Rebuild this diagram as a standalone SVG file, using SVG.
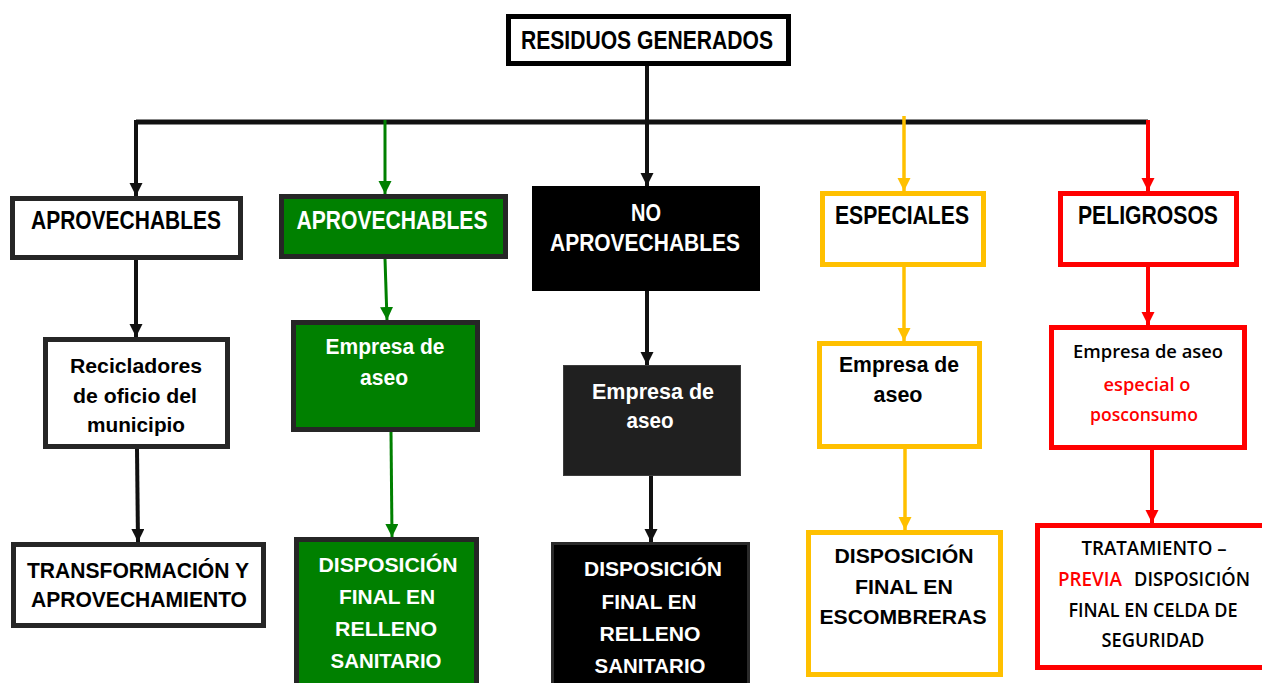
<svg xmlns="http://www.w3.org/2000/svg" width="1262" height="683" viewBox="0 0 1262 683">
<defs>
<style>
.t{font-family:"Liberation Sans",Arial,sans-serif;font-weight:bold;text-anchor:middle}
.c{font-family:"Open Sans","Noto Sans",sans-serif;font-weight:600;text-anchor:middle}
.w{fill:#ffffff}
.k{fill:#000000}
.r{fill:#ff0000}
.bx{fill:#ffffff;stroke:#262626;stroke-width:5}
.gb{fill:#008000;stroke:#262626;stroke-width:5}
.yb{fill:#ffffff;stroke:#ffc000;stroke-width:5}
.rb{fill:#ffffff;stroke:#ff0000;stroke-width:5}
.lk{fill:none;stroke:#111111;stroke-width:4}
.lg{fill:none;stroke:#008000;stroke-width:3}
.ly{fill:none;stroke:#ffc000;stroke-width:3.5}
.lr{fill:none;stroke:#ff0000;stroke-width:4}
</style>
<marker id="ak" markerUnits="userSpaceOnUse" markerWidth="14" markerHeight="14" refX="13" refY="6.5" orient="auto"><path d="M0,0 L13,6.5 L0,13 z" fill="#111111"/></marker>
<marker id="ag" markerUnits="userSpaceOnUse" markerWidth="14" markerHeight="14" refX="13" refY="6.5" orient="auto"><path d="M0,0 L13,6.5 L0,13 z" fill="#008000"/></marker>
<marker id="ay" markerUnits="userSpaceOnUse" markerWidth="14" markerHeight="14" refX="13" refY="6.5" orient="auto"><path d="M0,0 L13,6.5 L0,13 z" fill="#ffc000"/></marker>
<marker id="ar" markerUnits="userSpaceOnUse" markerWidth="14" markerHeight="14" refX="13" refY="6.5" orient="auto"><path d="M0,0 L13,6.5 L0,13 z" fill="#ff0000"/></marker>
</defs>
<rect width="1262" height="683" fill="#ffffff"/>

<g id="connectors">
<path class="lk" d="M647,66 L647,186" marker-end="url(#ak)"/>
<path d="M136,122 L1148,122" fill="none" stroke="#111111" stroke-width="5"/>
<path class="lk" d="M136,120 L136,196" marker-end="url(#ak)"/>
<path class="lg" d="M385,120 L385,194" marker-end="url(#ag)"/>
<path class="ly" d="M904,116 L904,191" marker-end="url(#ay)"/>
<path class="lr" d="M1148,120 L1148,191" marker-end="url(#ar)"/>
<path class="lk" d="M136,260 L136,337" marker-end="url(#ak)"/>
<path class="lk" d="M137,449 L138,542" marker-end="url(#ak)"/>
<path class="lg" d="M385,259 L387,320" marker-end="url(#ag)"/>
<path class="lg" d="M391,432 L392,537" marker-end="url(#ag)"/>
<path class="lk" d="M647,291 L647,365" marker-end="url(#ak)"/>
<path class="lk" d="M651,476 L651,542" marker-end="url(#ak)"/>
<path class="ly" d="M904,267 L904,341" marker-end="url(#ay)"/>
<path class="ly" d="M905,449 L905,530" marker-end="url(#ay)"/>
<path class="lr" d="M1148,267 L1148,325" marker-end="url(#ar)"/>
<path class="lr" d="M1152,450 L1152,523" marker-end="url(#ar)"/>
</g>

<g id="residuos">
<rect x="508.5" y="16.5" width="280" height="47" fill="#ffffff" stroke="#000000" stroke-width="5"/>
<text class="t k" x="647" y="49" font-size="26" textLength="252" lengthAdjust="spacingAndGlyphs">RESIDUOS GENERADOS</text>
</g>

<g id="aprov1">
<rect class="bx" x="12.5" y="198.5" width="228" height="59"/>
<text class="t k" x="126" y="229" font-size="25" textLength="190" lengthAdjust="spacingAndGlyphs">APROVECHABLES</text>
</g>
<g id="recicladores">
<rect class="bx" x="45.5" y="339.5" width="182" height="107"/>
<text class="t k" x="136" y="373" font-size="21" textLength="132" lengthAdjust="spacingAndGlyphs">Recicladores</text>
<text class="t k" x="135" y="403" font-size="21" textLength="124" lengthAdjust="spacingAndGlyphs">de oficio del</text>
<text class="t k" x="136" y="432" font-size="21" textLength="98" lengthAdjust="spacingAndGlyphs">municipio</text>
</g>
<g id="transformacion">
<rect class="bx" x="13.5" y="544.5" width="250" height="81"/>
<text class="t k" x="138" y="578" font-size="22" textLength="222" lengthAdjust="spacingAndGlyphs">TRANSFORMACIÓN Y</text>
<text class="t k" x="139" y="607" font-size="22" textLength="216" lengthAdjust="spacingAndGlyphs">APROVECHAMIENTO</text>
</g>

<g id="aprov2">
<rect class="gb" x="281.5" y="196.5" width="224" height="60"/>
<text class="t w" x="392" y="229" font-size="25" textLength="191" lengthAdjust="spacingAndGlyphs">APROVECHABLES</text>
</g>
<g id="empresa2">
<rect class="gb" x="293.5" y="322.5" width="184" height="107"/>
<text class="t w" x="385" y="354" font-size="22" textLength="119" lengthAdjust="spacingAndGlyphs">Empresa de</text>
<text class="t w" x="384" y="385" font-size="22" textLength="48" lengthAdjust="spacingAndGlyphs">aseo</text>
</g>
<g id="disposicion2">
<rect class="gb" x="296.5" y="539.5" width="180" height="170"/>
<text class="t w" x="388" y="572" font-size="21" textLength="139" lengthAdjust="spacingAndGlyphs">DISPOSICIÓN</text>
<text class="t w" x="387" y="604" font-size="21" textLength="96" lengthAdjust="spacingAndGlyphs">FINAL EN</text>
<text class="t w" x="386" y="636" font-size="21" textLength="102" lengthAdjust="spacingAndGlyphs">RELLENO</text>
<text class="t w" x="386" y="668" font-size="21" textLength="111" lengthAdjust="spacingAndGlyphs">SANITARIO</text>
</g>

<g id="noaprov">
<rect x="532" y="186" width="228" height="105" fill="#000000"/>
<text class="t w" x="646" y="221" font-size="23" textLength="30" lengthAdjust="spacingAndGlyphs">NO</text>
<text class="t w" x="645" y="251" font-size="23" textLength="190" lengthAdjust="spacingAndGlyphs">APROVECHABLES</text>
</g>
<g id="empresa3">
<rect x="563.5" y="365.5" width="177" height="110" fill="#202020" stroke="#3c3c3c" stroke-width="1"/>
<text class="t w" x="653" y="399" font-size="22" textLength="122" lengthAdjust="spacingAndGlyphs">Empresa de</text>
<text class="t w" x="650" y="428" font-size="22" textLength="47" lengthAdjust="spacingAndGlyphs">aseo</text>
</g>
<g id="disposicion3">
<rect x="552.5" y="543.5" width="196" height="170" fill="#000000" stroke="#2a2a2a" stroke-width="3"/>
<text class="t w" x="653" y="576" font-size="21" textLength="138" lengthAdjust="spacingAndGlyphs">DISPOSICIÓN</text>
<text class="t w" x="649" y="609" font-size="21" textLength="95" lengthAdjust="spacingAndGlyphs">FINAL EN</text>
<text class="t w" x="650" y="641" font-size="21" textLength="101" lengthAdjust="spacingAndGlyphs">RELLENO</text>
<text class="t w" x="650" y="673" font-size="21" textLength="111" lengthAdjust="spacingAndGlyphs">SANITARIO</text>
</g>

<g id="especiales">
<rect class="yb" x="822.5" y="193.5" width="161" height="71"/>
<text class="t k" x="902" y="224" font-size="25" textLength="134" lengthAdjust="spacingAndGlyphs">ESPECIALES</text>
</g>
<g id="empresa4">
<rect class="yb" x="819.5" y="343.5" width="160" height="103"/>
<text class="t k" x="899" y="372" font-size="22" textLength="120" lengthAdjust="spacingAndGlyphs">Empresa de</text>
<text class="t k" x="898" y="402" font-size="22" textLength="49" lengthAdjust="spacingAndGlyphs">aseo</text>
</g>
<g id="disposicion4">
<rect class="yb" x="808.5" y="532.5" width="192" height="142"/>
<text class="t k" x="904" y="563" font-size="21" textLength="139" lengthAdjust="spacingAndGlyphs">DISPOSICIÓN</text>
<text class="t k" x="904" y="594" font-size="21" textLength="98" lengthAdjust="spacingAndGlyphs">FINAL EN</text>
<text class="t k" x="903" y="624" font-size="21" textLength="167" lengthAdjust="spacingAndGlyphs">ESCOMBRERAS</text>
</g>

<g id="peligrosos">
<rect class="rb" x="1060.5" y="193.5" width="176" height="71"/>
<text class="t k" x="1148" y="224" font-size="25" textLength="140" lengthAdjust="spacingAndGlyphs">PELIGROSOS</text>
</g>
<g id="empresa5">
<rect class="rb" x="1051.5" y="327.5" width="193" height="120"/>
<text class="c k" x="1148" y="358" font-size="18.5" textLength="150" lengthAdjust="spacingAndGlyphs">Empresa de aseo</text>
<text class="c r" x="1147" y="391" font-size="18.5" textLength="87" lengthAdjust="spacingAndGlyphs">especial o</text>
<text class="c r" x="1144" y="421" font-size="18.5" textLength="108" lengthAdjust="spacingAndGlyphs">posconsumo</text>
</g>
<g id="tratamiento">
<rect class="rb" x="1037.5" y="525.5" width="240" height="142"/>
<text class="c k" x="1154" y="555" font-size="20" textLength="145" lengthAdjust="spacingAndGlyphs">TRATAMIENTO –</text>
<text class="c r" x="1090" y="586" font-size="20" textLength="64" lengthAdjust="spacingAndGlyphs">PREVIA</text>
<text class="c k" x="1192" y="586" font-size="20" textLength="116" lengthAdjust="spacingAndGlyphs">DISPOSICIÓN</text>
<text class="c k" x="1153" y="617" font-size="20" textLength="169" lengthAdjust="spacingAndGlyphs">FINAL EN CELDA DE</text>
<text class="c k" x="1153" y="647" font-size="20" textLength="103" lengthAdjust="spacingAndGlyphs">SEGURIDAD</text>
</g>
</svg>
